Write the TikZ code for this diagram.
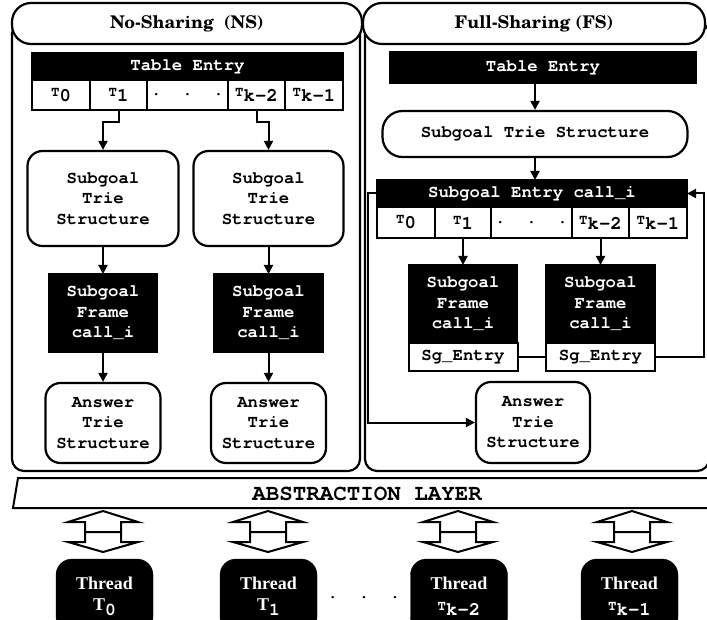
\documentclass[tikz,border=0pt]{standalone}
\usepackage{fontspec}
\setmainfont{Liberation Serif}
\setmonofont{TeX Gyre Cursor}
\newfontfamily\headfont{TeX Gyre Schola}
\usetikzlibrary{positioning, arrows.meta}

% T with index, as in the table cells
\newcommand{\Tk}[1]{{\fontsize{14}{14}\selectfont T}\raisebox{-5pt}{\fontsize{19}{19}\selectfont #1}}

\begin{document}
\begin{tikzpicture}[x=1pt, y=-1pt,
    % styles
    txt/.style={font=\fontsize{17.3}{20.5}\selectfont\ttfamily\bfseries, align=center},
    panel/.style={draw, line width=2.2pt, rounded corners=12pt},
    header/.style={draw, fill=white, line width=2.2pt, rounded corners=19pt, font=\fontsize{17.5}{22}\selectfont\headfont\bfseries},
    blackbox/.style={txt, draw, fill=black, text=white, line width=1.2pt, inner sep=0pt, outer sep=0pt},
    cell/.style={txt, draw, fill=white, line width=2pt, inner sep=0pt, outer sep=0pt},
    trie/.style={txt, draw, fill=white, line width=2.2pt, rounded corners=15pt, inner sep=0pt},
    thread/.style={draw, fill=black, text=white, rounded corners=16pt, minimum width=97pt, minimum height=74pt, align=center, font=\fontsize{18}{21}\selectfont\bfseries},
    arrow/.style={-{Triangle[length=9pt,width=9pt]}, line width=2pt},
    link/.style={line width=2pt}
]
\useasboundingbox (0,0) rectangle (707,620);

% --- panels ---
\node[panel, minimum width=348pt, minimum height=449pt] (ns) at (186,246.5) {};
\node[panel, minimum width=344pt, minimum height=449pt] (fs) at (537,246.5) {};
\node[header, minimum width=350pt, minimum height=41pt] (ns-head) at (187,23.5) {No-Sharing~~(NS)};
\node[header, minimum width=342pt, minimum height=41pt] (fs-head) at (534,23.5) {Full-Sharing (FS)};

% --- No-Sharing ---
\node[blackbox, minimum width=311pt, minimum height=27pt] (ns-te) at (187.5,66.5) {Table Entry};
\node[cell, minimum width=58pt, minimum height=30pt, anchor=north west] (ns-c1) at (ns-te.south west) {\Tk{0}};
\node[cell, minimum width=57pt, minimum height=30pt, right=0pt of ns-c1] (ns-c2) {\Tk{1}};
\node[cell, minimum width=81pt, minimum height=30pt, right=0pt of ns-c2] (ns-c3) {.~~.~~.};
\node[cell, minimum width=57pt, minimum height=30pt, right=0pt of ns-c3] (ns-c4) {\Tk{k-2}};
\node[cell, minimum width=58pt, minimum height=30pt, right=0pt of ns-c4] (ns-c5) {\Tk{k-1}};

\node[trie, minimum width=151pt, minimum height=95pt] (ns-st1) at (103,198.5) {Subgoal\\Trie\\Structure};
\node[trie, minimum width=150pt, minimum height=95pt] (ns-st2) at (268.5,198.5) {Subgoal\\Trie\\Structure};
\node[blackbox, minimum width=109pt, minimum height=78pt] (ns-f1) at (103,313) {Subgoal\\Frame\\call\_i};
\node[blackbox, minimum width=109pt, minimum height=78pt] (ns-f2) at (268.5,313) {Subgoal\\Frame\\call\_i};
\node[trie, minimum width=115pt, minimum height=80pt] (ns-at1) at (103,423) {Answer\\Trie\\Structure};
\node[trie, minimum width=115pt, minimum height=80pt] (ns-at2) at (268.5,423) {Answer\\Trie\\Structure};

\draw[arrow] (ns-c2.south) -- ++(0,12) -| (ns-st1.north);
\draw[arrow] (ns-c4.south) -- ++(0,12) -| (ns-st2.north);
\draw[arrow] (ns-st1) -- (ns-f1);
\draw[arrow] (ns-st2) -- (ns-f2);
\draw[arrow] (ns-f1) -- (ns-at1);
\draw[arrow] (ns-f2) -- (ns-at2);

% --- Full-Sharing ---
\node[blackbox, minimum width=306pt, minimum height=31pt] (fs-te) at (543,67.5) {Table Entry};
\node[trie, rounded corners=20pt, minimum width=305pt, minimum height=46pt] (fs-st) at (535,134) {Subgoal Trie Structure};
\node[blackbox, minimum width=310pt, minimum height=27pt] (fs-se) at (532,193.5) {Subgoal Entry call\_i};
\node[cell, minimum width=58pt, minimum height=31pt, anchor=north west] (fs-c1) at (fs-se.south west) {\Tk{0}};
\node[cell, minimum width=56pt, minimum height=31pt, right=0pt of fs-c1] (fs-c2) {\Tk{1}};
\node[cell, minimum width=81pt, minimum height=31pt, right=0pt of fs-c2] (fs-c3) {.~~.~~.};
\node[cell, minimum width=57pt, minimum height=31pt, right=0pt of fs-c3] (fs-c4) {\Tk{k-2}};
\node[cell, minimum width=58pt, minimum height=31pt, right=0pt of fs-c4] (fs-c5) {\Tk{k-1}};

\node[blackbox, minimum width=109pt, minimum height=78pt] (fs-f1) at (463,304) {Subgoal\\Frame\\call\_i};
\node[blackbox, minimum width=109pt, minimum height=78pt] (fs-f2) at (600.5,304) {Subgoal\\Frame\\call\_i};
\node[cell, minimum width=109pt, minimum height=28pt, anchor=north] (fs-sg1) at (fs-f1.south) {Sg\_Entry};
\node[cell, minimum width=109pt, minimum height=28pt, anchor=north] (fs-sg2) at (fs-f2.south) {Sg\_Entry};
\node[trie, minimum width=114pt, minimum height=81pt] (fs-at) at (533,422.5) {Answer\\Trie\\Structure};

\coordinate (fs-r) at (704,0);
\coordinate (fs-l) at (368,0);

\draw[arrow] (fs-te.south -| fs-st.north) -- (fs-st.north);
\draw[arrow] (fs-st) -- (fs-st.south |- fs-se.north);
\draw[arrow] (fs-c2.south) -- (fs-f1.north);
\draw[arrow] (fs-c4.south) -- (fs-f2.north);
\draw[link] (fs-sg1.east) -- (fs-sg2.west);
\draw[arrow] (fs-sg2.east) -- (fs-sg2.east -| fs-r) |- (fs-se.east);
\draw[arrow] (fs-se.west) -- (fs-se.west -| fs-l) |- (fs-at.west);

% --- abstraction layer ---
\draw[line width=2pt] (18,478) -- (720,478) -- (720,508) -- (13,508) -- cycle;
\node[font=\fontsize{22.5}{24}\selectfont\ttfamily\bfseries] (abs) at (367,494) {ABSTRACTION LAYER};

\foreach \cx in {103,268,458,632}
    \draw[line width=2pt] (\cx,511) -- ++(35,11) -- ++(-17,0) -- ++(0,20) -- ++(17,0)
        -- (\cx,552) -- ++(-35,-10) -- ++(17,0) -- ++(0,-20) -- ++(-17,0) -- cycle
        ({\cx-18},532) -- ({\cx+18},532);

% --- threads ---
\node[thread] (th0) at (104.5,596) {Thread\\T{\ttfamily\raisebox{-5pt}{0}}};
\node[thread] (th1) at (268.5,596) {Thread\\T{\ttfamily\raisebox{-5pt}{1}}};
\node[thread] (th2) at (459,596) {Thread\\{\ttfamily\Tk{k-2}}};
\node[thread] (th3) at (629.5,596) {Thread\\{\ttfamily\Tk{k-1}}};
\node[font=\fontsize{17.3}{20}\selectfont\ttfamily\bfseries] (dots) at (364,598) {.~~.~~.};

\end{tikzpicture}
\end{document}
